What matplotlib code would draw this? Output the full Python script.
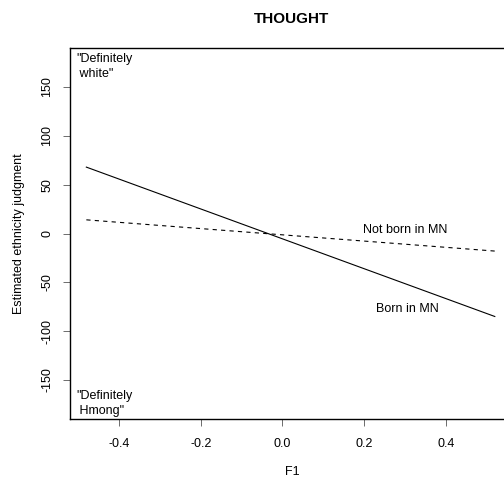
import matplotlib
matplotlib.use("Agg")
import matplotlib.pyplot as plt

plt.rcParams["font.family"] = ["Liberation Sans", "DejaVu Sans"]

# endpoints of the two fitted lines
f1_range = [-0.48, 0.52]
born_mn = [68, -85]
not_born_mn = [14, -18]

x_ticks = [-0.4, -0.2, 0.0, 0.2, 0.4]
x_ticklabels = ["-0.4", "-0.2", "0.0", "0.2", "0.4"]
y_ticks = [-150, -100, -50, 0, 50, 100, 150]

fig = plt.figure(figsize=(5.04, 4.8), dpi=100)
ax = fig.add_axes([70 / 504, 1 - 419 / 480, 444 / 504, 371 / 480])

ax.plot(f1_range, born_mn, color="black", lw=0.8)
ax.plot(f1_range, not_born_mn, color="black", lw=0.8, dashes=(3.8, 3.8))

ax.text(0.30, 4, "Not born in MN", ha="center", va="center", fontsize=9)
ax.text(0.305, -77, "Born in MN", ha="center", va="center", fontsize=9)
ax.text(-0.505, 171, '"Definitely\n white"', ha="left", va="center",
        fontsize=9, linespacing=1.25)
ax.text(-0.505, -174, '"Definitely\n Hmong"', ha="left", va="center",
        fontsize=9, linespacing=1.25)

ax.set_xlim(-0.52, 0.567)
ax.set_ylim(-190, 190)
ax.set_xticks(x_ticks)
ax.set_xticklabels(x_ticklabels)
ax.set_yticks(y_ticks)
ax.set_yticklabels([str(v) for v in y_ticks], rotation=90, va="center")
ax.tick_params(direction="out", length=5, width=0.6, labelsize=9, pad=7,
               color="#555555")
ax.tick_params(axis="x", pad=9)

for s in ax.spines.values():
    s.set_linewidth(1.0)

ax.set_xlabel("F1", fontsize=9, labelpad=11)
ax.set_ylabel("Estimated ethnicity judgment", fontsize=9, labelpad=12)
ax.set_title("THOUGHT", fontsize=11, fontweight="bold", pad=18)

fig.savefig("out.png", dpi=100)
